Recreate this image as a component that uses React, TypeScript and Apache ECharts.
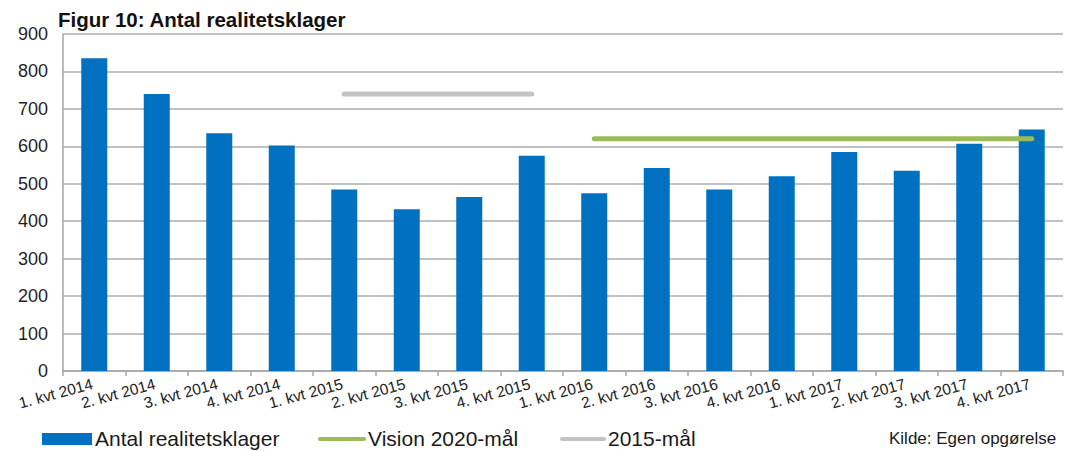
import React, { useEffect, useRef } from "react";
import * as echarts from "echarts";

const categories = [
  "1. kvt 2014", "2. kvt 2014", "3. kvt 2014", "4. kvt 2014",
  "1. kvt 2015", "2. kvt 2015", "3. kvt 2015", "4. kvt 2015",
  "1. kvt 2016", "2. kvt 2016", "3. kvt 2016", "4. kvt 2016",
  "1. kvt 2017", "2. kvt 2017", "3. kvt 2017", "4. kvt 2017",
];
const klager = [835, 740, 635, 602, 485, 432, 465, 575, 475, 542, 485, 520, 585, 535, 607, 645];
const vision2020 = [null, null, null, null, null, null, null, null, 620, 620, 620, 620, 620, 620, 620, 620];
const maal2015 = [null, null, null, null, 740, 740, 740, 740, null, null, null, null, null, null, null, null];
const seriesNames = ["Antal realitetsklager", "Vision 2020-mål", "2015-mål"];
const yTicks = [0, 100, 200, 300, 400, 500, 600, 700, 800, 900];
const title = "Figur 10: Antal realitetsklager";
const source = "Kilde: Egen opgørelse";

const BLUE = "#0070C0";
const GREEN = "#9BBB59";
const GRAY = "#C3C3C3";
const FONT = "Liberation Sans, Arial, sans-serif";

export default function App() {
  const ref = useRef<HTMLDivElement>(null);
  useEffect(() => {
    if (!ref.current) return;
    const chart = echarts.init(ref.current, undefined, { renderer: "svg" });
    chart.setOption({
      animation: false,
      backgroundColor: "#ffffff",
      textStyle: { fontFamily: FONT },
      grid: { left: 63, right: 18, top: 34, bottom: 80, containLabel: false },
      xAxis: {
        type: "category",
        data: categories,
        boundaryGap: true,
        axisLine: { show: true, lineStyle: { color: "#A6A6A6", width: 1.5 } },
        axisTick: { show: true, length: 5, lineStyle: { color: "#A6A6A6", width: 1.5 } },
        axisLabel: {
          rotate: 15,
          interval: 0,
          margin: 12,
          fontSize: 15.5,
          color: "#222222",
          fontFamily: FONT,
          padding: [0, 2, 0, 0],
        },
      },
      yAxis: {
        type: "value",
        min: yTicks[0],
        max: yTicks[yTicks.length - 1],
        interval: 100,
        axisLine: { show: true, lineStyle: { color: "#A6A6A6", width: 1.5 } },
        axisTick: { show: false },
        axisLabel: { fontSize: 18, color: "#1f1f1f", margin: 15, fontFamily: FONT },
        splitLine: { show: true, lineStyle: { color: "#ADADAD", width: 1.5 } },
      },
      series: [
        {
          name: seriesNames[0],
          type: "bar",
          data: klager,
          barWidth: 26,
          itemStyle: { color: BLUE },
        },
        {
          name: seriesNames[1],
          type: "line",
          data: vision2020,
          symbol: "none",
          connectNulls: false,
          lineStyle: { color: GREEN, width: 5, cap: "round" },
          z: 5,
        },
        {
          name: seriesNames[2],
          type: "line",
          data: maal2015,
          symbol: "none",
          connectNulls: false,
          lineStyle: { color: GRAY, width: 5, cap: "round" },
          z: 5,
        },
      ],
      graphic: [
        {
          type: "text",
          left: 58,
          top: 9,
          style: { text: title, font: `bold 20.5px ${FONT}`, fill: "#111111" },
        },
        { type: "rect", shape: { x: 42, y: 433, width: 50, height: 12 }, style: { fill: BLUE } },
        {
          type: "text", left: 95, top: 428,
          style: { text: seriesNames[0], font: `21px ${FONT}`, fill: "#1a1a1a" },
        },
        {
          type: "line", shape: { x1: 320, y1: 439, x2: 364, y2: 439 },
          style: { stroke: GREEN, lineWidth: 4, lineCap: "round" },
        },
        {
          type: "text", left: 368, top: 428,
          style: { text: seriesNames[1], font: `21px ${FONT}`, fill: "#1a1a1a" },
        },
        {
          type: "line", shape: { x1: 562, y1: 439, x2: 604, y2: 439 },
          style: { stroke: GRAY, lineWidth: 4, lineCap: "round" },
        },
        {
          type: "text", left: 608, top: 428,
          style: { text: seriesNames[2], font: `21px ${FONT}`, fill: "#1a1a1a" },
        },
        {
          type: "text", left: 889, top: 430,
          style: { text: source, font: `17px ${FONT}`, fill: "#1a1a1a" },
        },
      ],
    });
    return () => chart.dispose();
  }, []);
  return (
    <div
      ref={ref}
      style={{ position: "fixed", left: 0, top: 0, width: 1081, height: 451 }}
    />
  );
}
